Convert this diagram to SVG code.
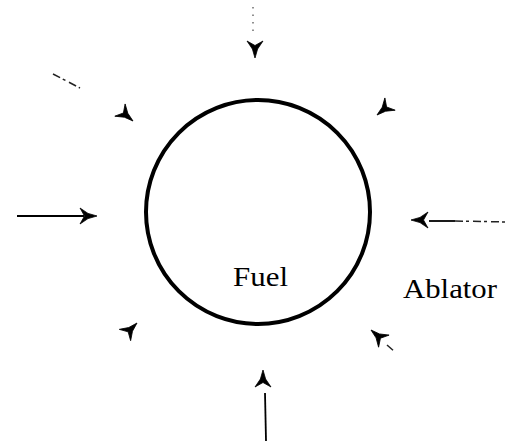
<svg xmlns="http://www.w3.org/2000/svg" width="519" height="444" viewBox="0 0 519 444">
<style>
.ln{stroke:#000;fill:none;stroke-width:1.8}
.dash{stroke:#222;fill:none;stroke-width:1.5;stroke-dasharray:8 3 3 4}
.dot{stroke:#555;fill:none;stroke-width:1.3;stroke-dasharray:1.5 6}
.lbl{font-family:"Liberation Serif","Times New Roman",serif;font-size:28px;fill:#000}
</style>
<defs>
<path id="ah" d="M0,0 L-9,-2.6 L-17,-8 L-12.5,0 L-17,8 L-9,2.6 Z" fill="#000" stroke="#000" stroke-width="0.8" stroke-linejoin="round"/>
</defs>
<rect width="519" height="444" fill="#fff"/>
<g id="fuel">
<circle cx="258" cy="212" r="112" fill="none" stroke="#000" stroke-width="4"/>
<text class="lbl" x="233" y="286" textLength="55" lengthAdjust="spacingAndGlyphs">Fuel</text>
</g>
<g id="ablator">
<text class="lbl" x="403" y="298" textLength="94" lengthAdjust="spacingAndGlyphs">Ablator</text>
</g>
<g id="connectors">
<g id="c-top"><line class="dot" x1="253" y1="7" x2="253" y2="34"/><use href="#ah" transform="translate(255,58) rotate(90)"/></g>
<g id="c-ul"><line class="dash" x1="53" y1="74" x2="80" y2="88"/><use href="#ah" transform="translate(133,121) rotate(40)"/></g>
<g id="c-ur"><use href="#ah" transform="translate(377,115) rotate(140)"/></g>
<g id="c-left"><line class="ln" x1="17" y1="216" x2="84" y2="216"/><use href="#ah" transform="translate(97,216) rotate(0)"/></g>
<g id="c-right"><line class="ln" x1="429" y1="221" x2="455" y2="221"/><line class="dash" x1="455" y1="221" x2="507" y2="222"/><use href="#ah" transform="translate(411,220) rotate(180)"/></g>
<g id="c-ll"><use href="#ah" transform="translate(137,323) rotate(-45)"/></g>
<g id="c-bottom"><line class="ln" x1="265" y1="393" x2="266" y2="441"/><use href="#ah" transform="translate(263,370) rotate(-90)"/></g>
<g id="c-lr"><line class="dash" x1="387" y1="345" x2="395" y2="352"/><use href="#ah" transform="translate(371,330) rotate(-139)"/></g>
</g>
</svg>
